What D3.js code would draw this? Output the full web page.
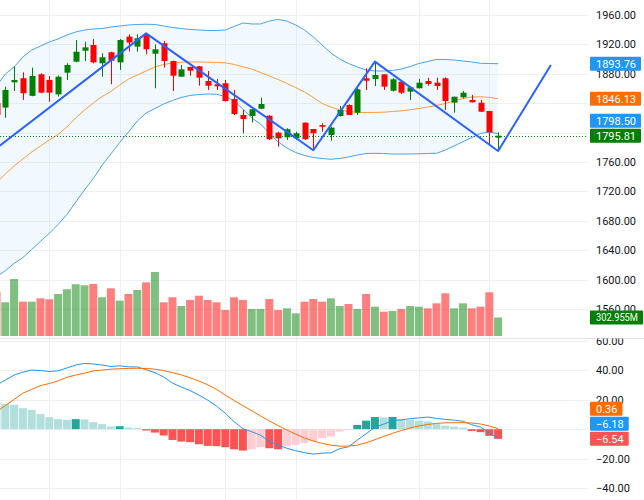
<!DOCTYPE html>
<html><head><meta charset="utf-8">
<script src="https://cdn.jsdelivr.net/npm/d3@7"></script>
<style>body{margin:0;background:#fff}svg{display:block}text{font-family:Roboto,"Liberation Sans",sans-serif;font-size:11px}</style>
</head><body>
<svg id="c" width="644" height="500"></svg>
<script>
// ---------- data (index 0..57, one entry per bar) ----------
const open  = [1840,1834,1868.4,1874,1850,1879.3,1871.6,1852,1881.5,1896.5,1911.4,1919.2,1894.3,1909.3,1895.6,1930.5,1917,1932.8,1907.3,1921.5,1897.4,1876.1,1889.3,1890.2,1870.2,1865.7,1867.1,1845.7,1824,1822.6,1832.5,1823,1800,1793.6,1792.3,1813.5,1804.9,1810.3,1796.7,1822.6,1837.6,1827.1,1873.9,1872.9,1879.3,1857,1869.3,1855.7,1860.3,1870.2,1867.9,1873.9,1840.7,1848,1844.4,1840.7,1829.4,1793.1];
const high  = [1846,1862.5,1889.7,1882,1888.3,1880.7,1877,1877.5,1894.3,1926,1923.7,1927.3,1908,1910,1927.3,1933.7,1933.7,1935.1,1920,1924.6,1898,1892,1889.5,1890.5,1883.8,1873,1871.6,1858,1830.8,1832,1847.5,1823.5,1801.2,1806,1801.2,1814,1805,1812.7,1808,1836.2,1838.5,1860.3,1887.5,1896.5,1879.5,1874,1871.6,1863.4,1873,1874.7,1874.7,1875.2,1849,1856.6,1851.2,1844.4,1829.5,1800.4];
const low   = [1818,1820.3,1856.6,1844.4,1849.5,1853.5,1842,1849,1871.6,1895.6,1897.4,1894.3,1876,1865.7,1885.2,1910.3,1910,1906.5,1860.3,1888.3,1856.6,1876,1877.4,1863.8,1858,1858,1842,1824,1799,1813.7,1832,1790,1780.8,1790,1790,1790,1777,1801.2,1789,1821.7,1824,1824,1858,1863.4,1858,1855.7,1852.5,1844.4,1860,1863.8,1858,1830.8,1827.1,1846.7,1841,1828,1783.1,1777];
const close = [1824,1858,1871.6,1853.5,1877,1854.3,1854.3,1876,1892,1910,1916,1895.6,1902.5,1897.8,1926,1922.6,1928.3,1913.3,1913.3,1897.4,1877.4,1886.1,1884.2,1874.7,1863.8,1863,1843,1825.3,1818.5,1831.7,1838.9,1791,1792.3,1804.5,1799.1,1791,1799.1,1808,1806.7,1830.8,1824,1858.9,1870.6,1878.4,1862.5,1872.5,1854.3,1861.6,1867.9,1866.1,1863.4,1843,1848.8,1854.3,1841.2,1828.4,1800.4,1795.81];
const volumeM = [725,552,933,562,562,617,601,688,765,847,830,852,634,781,578,688,753,879,1048,552,634,491,590,660,590,552,426,634,590,442,442,606,426,453,371,562,606,562,617,491,524,442,688,480,398,409,442,491,480,453,535,699,453,535,453,480,716,302.955];
const bbUpper = [1863.4,1879.7,1889.3,1902.9,1912.4,1917.8,1923.3,1927.4,1932.8,1936.9,1939.6,1941.0,1941.6,1943.7,1945.0,1946.4,1947.1,1947.4,1947.1,1945.0,1943.0,1941.6,1940.3,1939.6,1938.9,1938.9,1939.6,1944.4,1949.1,1947.8,1947.8,1951.8,1953.9,1951.8,1946.4,1939.6,1930.1,1919.2,1908.3,1900.1,1894.0,1889.3,1885.2,1883.8,1883.8,1884.5,1886.5,1889.9,1894.0,1896.7,1899.5,1899.5,1898.8,1897.4,1896.1,1894.3,1894.0,1893.76];
const bbBasis = [1731.4,1743.7,1754.6,1764.1,1773.6,1781.8,1789.9,1797.4,1807.6,1819.9,1830.8,1840.3,1849.1,1855.9,1864.8,1872.9,1878.4,1883.8,1889.3,1892.7,1894.7,1895.7,1896.1,1896.1,1895.8,1895.5,1895.0,1892.7,1889.5,1886.5,1881.8,1877.0,1872.3,1866.8,1861.4,1855.2,1847.8,1839.6,1834.8,1830.8,1828.7,1827.6,1827.4,1827.5,1827.8,1828.7,1829.7,1831.0,1832.8,1834.8,1836.9,1839.6,1843.0,1846.4,1848.4,1848.7,1848.0,1846.13];
const bbLower = [1604,1612,1622,1630,1641,1652,1663,1675,1688.5,1705.6,1722,1737.5,1755.6,1771,1786.6,1800.8,1815.8,1826.7,1832.8,1838.9,1843.7,1847.8,1850.5,1851.8,1852.5,1852.1,1849.1,1843.0,1832.1,1819.9,1811.7,1799.5,1787.2,1779.1,1772.9,1768.9,1766.1,1764.8,1763.7,1764.8,1766.8,1769.5,1771.6,1771.8,1771.6,1770.9,1770.9,1770.9,1771.2,1771.6,1771.8,1776.3,1781.8,1787.6,1793.3,1798.8,1800.8,1798.50];
const macdLine = [29.8,33.2,36.6,38.6,40.0,39.7,39.0,39.5,41.4,43.4,44.5,44.1,43.4,42.4,42.9,42.2,42.1,40.2,38.3,35.3,31.2,28.5,26.1,23.1,19.7,15.6,10.8,5.1,0.3,-1.7,-4.1,-8.1,-10.8,-12.9,-14.6,-15.9,-16.9,-16.2,-16.0,-13.2,-11.9,-7.4,-3.1,1.2,3.4,5.8,6.3,7.1,7.6,8.2,7.3,6.6,6.1,5.4,3.0,1.5,-2.5,-6.18];
const signalLine = [11.8,16.0,20.1,24.4,26.9,29.5,30.9,32.7,35.1,36.6,37.9,39.4,40.0,40.6,40.9,41.1,41.2,41.1,40.6,39.6,38.3,36.7,34.8,32.6,30.0,27.0,23.0,19.4,15.9,12.5,9.0,5.6,2.4,-0.6,-3.4,-5.9,-8.0,-9.6,-10.8,-11.5,-11.5,-10.8,-9.2,-7.1,-4.9,-2.8,-0.9,0.8,2.2,3.2,3.9,4.3,4.4,4.4,4.2,3.5,2.2,0.36];
const macdHist = [18.0,17.2,16.5,14.2,13.1,10.2,8.1,6.8,6.3,6.8,6.6,4.7,3.4,1.8,2.0,1.1,0.9,-0.9,-2.3,-4.3,-7.3,-8.4,-8.8,-10.2,-11.3,-11.5,-12.2,-13.6,-14.5,-13.6,-12.2,-12.9,-13.6,-11.5,-10.6,-9.5,-8.0,-6.0,-5.0,-1.6,-0.5,2.9,5.8,8.2,8.0,8.3,6.8,6.3,5.8,5.2,3.4,2.4,1.8,1.1,-1.2,-2.0,-4.5,-6.54];
const zigzagIdx   = [-5, 17, 36, 43, 57, 63];
const zigzagPrice = [1732.7, 1935, 1776, 1896.5, 1775, 1892];
const priceTicks = [1560,1600,1640,1680,1720,1760,1800,1840,1880,1920,1960];
const macdTicks  = [-40,-20,0,20,40,60];
const timeGridIdx = [6,14,26,34,48,56];

// ---------- layout ----------
const svg = d3.select('#c');
const plotR = 588;
const idx = d3.range(close.length);
const x  = d3.scaleLinear().domain([0,57]).range([-3.5,498.1]);
const yP = d3.scaleLinear().domain([1560,1960]).range([309,15]);
const yV = d3.scaleLinear().domain([0,1000]).range([336,274.93]);
const yM = d3.scaleLinear().domain([-40,60]).range([488.3,340.5]);

const defs = svg.append('defs');
defs.append('clipPath').attr('id','cMain').append('rect').attr('x',0).attr('y',0).attr('width',plotR).attr('height',337);
defs.append('clipPath').attr('id','cMacd').append('rect').attr('x',0).attr('y',339).attr('width',plotR).attr('height',161);
defs.append('clipPath').attr('id','cMacdAx').append('rect').attr('x',plotR).attr('y',338.5).attr('width',60).attr('height',162);
defs.append('clipPath').attr('id','cMainAx').append('rect').attr('x',plotR).attr('y',0).attr('width',60).attr('height',337);

const gridC = '#eef0f5';
svg.append('g').selectAll('line').data(timeGridIdx).join('line')
  .attr('x1',d=>Math.round(x(d))+0.5).attr('x2',d=>Math.round(x(d))+0.5)
  .attr('y1',0).attr('y2',500).attr('stroke',gridC);
svg.append('g').selectAll('line').data(priceTicks).join('line')
  .attr('x1',0).attr('x2',plotR).attr('y1',d=>Math.round(yP(d))+0.5).attr('y2',d=>Math.round(yP(d))+0.5).attr('stroke',gridC);
svg.append('g').selectAll('line').data(macdTicks).join('line')
  .attr('x1',0).attr('x2',plotR).attr('y1',d=>Math.round(yM(d))+0.5).attr('y2',d=>Math.round(yM(d))+0.5).attr('stroke',gridC);
svg.append('line').attr('x1',0).attr('x2',644).attr('y1',338.5).attr('y2',338.5).attr('stroke','#e0e3eb');

const main = svg.append('g').attr('clip-path','url(#cMain)');
const up = i => close[i] >= open[i];
main.append('g').selectAll('rect').data(idx).join('rect')
  .attr('x',i=>x(i)-4).attr('width',8)
  .attr('y',i=>yV(volumeM[i])).attr('height',i=>yV(0)-yV(volumeM[i]))
  .attr('fill',i=>up(i)?'rgba(0,128,0,0.5)':'rgba(255,0,0,0.5)');

main.append('path').datum(idx)
  .attr('d',d3.area().x(i=>x(i)).y0(i=>yP(bbLower[i])).y1(i=>yP(bbUpper[i])))
  .attr('fill','rgba(33,150,243,0.06)');
const ln = arr => d3.line().x(i=>x(i)).y(i=>yP(arr[i]));
main.append('path').datum(idx).attr('d',ln(bbUpper)).attr('fill','none').attr('stroke','#4aa3f0').attr('stroke-width',1);
main.append('path').datum(idx).attr('d',ln(bbLower)).attr('fill','none').attr('stroke','#4aa3f0').attr('stroke-width',1);
main.append('path').datum(idx).attr('d',ln(bbBasis)).attr('fill','none').attr('stroke','#ff9a3c').attr('stroke-width',1);

const cg = main.append('g');
cg.selectAll('line').data(idx).join('line')
  .attr('x1',i=>Math.round(x(i))+0.5).attr('x2',i=>Math.round(x(i))+0.5)
  .attr('y1',i=>yP(high[i])).attr('y2',i=>yP(low[i]))
  .attr('stroke',i=>up(i)?'#008000':'#ff0000').attr('stroke-width',1);
cg.selectAll('rect').data(idx).join('rect')
  .attr('x',i=>Math.round(x(i))-2.5).attr('width',6)
  .attr('y',i=>yP(Math.max(open[i],close[i])))
  .attr('height',i=>Math.max(1,yP(Math.min(open[i],close[i]))-yP(Math.max(open[i],close[i]))))
  .attr('fill',i=>up(i)?'#008000':'#ff0000');

main.append('line').attr('x1',0).attr('x2',plotR)
  .attr('y1',Math.round(yP(close[57]))+0.5).attr('y2',Math.round(yP(close[57]))+0.5)
  .attr('stroke','#008000').attr('stroke-dasharray','1,2');

main.append('path').datum(d3.range(zigzagIdx.length))
  .attr('d',d3.line().x(k=>x(zigzagIdx[k])).y(k=>yP(zigzagPrice[k])))
  .attr('fill','none').attr('stroke','#2962ff').attr('stroke-width',2).attr('stroke-linejoin','round');

const mg = svg.append('g').attr('clip-path','url(#cMacd)');
const histColor = i => {
  const v = macdHist[i], p = i>0 ? macdHist[i-1] : v+1;
  if (v >= 0) return v > p ? '#26a69a' : '#b2dfdb';
  return v < p ? '#ff5252' : '#ffcdd2';
};
mg.append('g').selectAll('rect').data(idx).join('rect')
  .attr('x',i=>x(i)-4).attr('width',8)
  .attr('y',i=>Math.min(yM(0),yM(macdHist[i])))
  .attr('height',i=>Math.abs(yM(macdHist[i])-yM(0)))
  .attr('fill',histColor);
const lm = arr => d3.line().x(i=>x(i)).y(i=>yM(arr[i]));
mg.append('path').datum(idx).attr('d',lm(macdLine)).attr('fill','none').attr('stroke','#2196f3').attr('stroke-width',1);
mg.append('path').datum(idx).attr('d',lm(signalLine)).attr('fill','none').attr('stroke','#ff6d00').attr('stroke-width',1);

// value labels (computed first so hidden tick labels can be skipped)
const fmt = d3.format('.2f');
function placeLabels(list){
  list.sort((a,b)=>b.y-a.y);
  let prev = Infinity;
  list.forEach(l=>{ l.py = Math.min(l.y, prev-15); prev = l.py; });
  return list;
}
const L = close.length-1;
const priceLabels = placeLabels([
  {y:yP(bbUpper[L]), text:fmt(bbUpper[L]), color:'#2196f3'},
  {y:yP(bbBasis[L]), text:fmt(bbBasis[L]), color:'#ff6d00'},
  {y:yP(bbLower[L]), text:fmt(bbLower[L]), color:'#2196f3'},
  {y:yP(close[L]),   text:fmt(close[L]),   color:'#008000'}
]);
const volLabels = [{py:yV(volumeM[L]), text:d3.format('.3f')(volumeM[L])+'M', color:'#008000'}];
const macdLabels = placeLabels([
  {y:yM(signalLine[L]), text:fmt(signalLine[L]), color:'#ff6d00'},
  {y:yM(macdLine[L]),   text:fmt(macdLine[L]),   color:'#2196f3'},
  {y:yM(macdHist[L]),   text:fmt(macdHist[L]),   color:'#ff5252'}
]);
const hidden = (yy, labs) => labs.some(l=>Math.abs(l.py-yy) < 6);

const axP = svg.append('g').attr('clip-path','url(#cMainAx)').append('g').attr('transform',`translate(${plotR},0)`)
  .call(d3.axisRight(yP).tickValues(priceTicks.filter(t=>!hidden(yP(t),priceLabels))).tickSize(0).tickPadding(8).tickFormat(fmt));
const axM = svg.append('g').attr('clip-path','url(#cMacdAx)').append('g').attr('transform',`translate(${plotR},0)`)
  .call(d3.axisRight(yM).tickValues(macdTicks.filter(t=>!hidden(yM(t),macdLabels))).tickSize(0).tickPadding(8).tickFormat(fmt));
[axP,axM].forEach(a=>{a.select('.domain').remove();a.selectAll('text').attr('fill','#131722').style('font-size','11px').style('font-family','Roboto,"Liberation Sans",sans-serif');});

function drawLabels(list){
  const g = svg.append('g');
  list.forEach(l=>{
    const t = g.append('text').attr('x',596).attr('y',l.py).attr('dy','0.35em').attr('fill','#fff').text(l.text);
    let w = t.node().getComputedTextLength();
    if (w > 42) { t.attr('textLength',42).attr('lengthAdjust','spacingAndGlyphs'); w = 42; }
    g.insert('rect','text').attr('x',590).attr('y',l.py-7).attr('width',w+11).attr('height',14).attr('rx',1).attr('fill',l.color);
  });
}
drawLabels(priceLabels);
drawLabels(volLabels);
drawLabels(macdLabels);
</script>
</body></html>
